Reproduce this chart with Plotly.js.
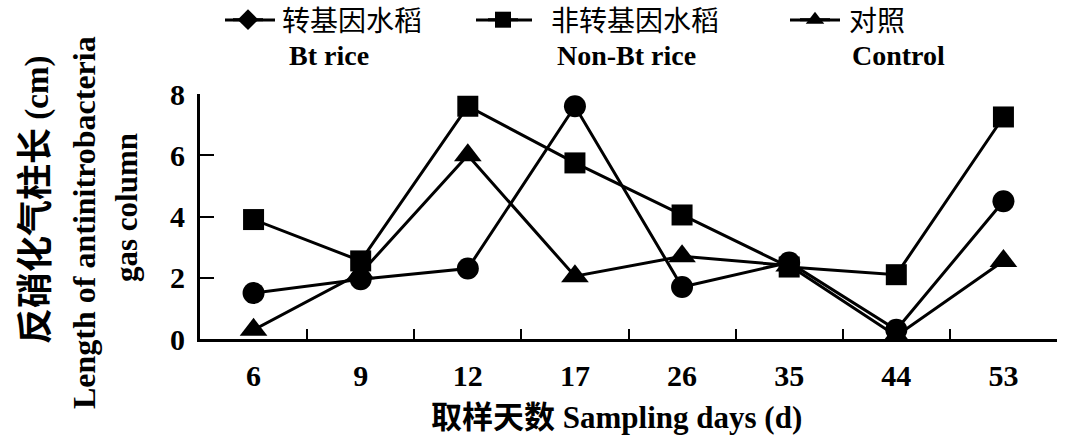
<!DOCTYPE html>
<html>
<head>
<meta charset="utf-8">
<script src="https://cdn.plot.ly/plotly-3.0.1.min.js"></script>
<style>html,body{margin:0;padding:0;background:#fff;}#chart{width:1065px;height:444px;}</style>
</head>
<body>
<div id="chart"></div>
<script>
const days = ['6', '9', '12', '17', '26', '35', '44', '53'];
const btRice = [1.5, 1.95, 2.3, 7.6, 1.7, 2.5, 0.3, 4.5];
const nonBtRice = [3.9, 2.55, 7.6, 5.75, 4.05, 2.35, 2.1, 7.25];
const control = [0.3, 2.15, 6.0, 2.05, 2.7, 2.4, 0.1, 2.55];
const seriesZh = ['转基因水稻', '非转基因水稻', '对照'];
const seriesEn = ['Bt rice', 'Non-Bt rice', 'Control'];
const yTicks = [0, 2, 4, 6, 8];

const FONT = 'Liberation Serif, Noto Sans CJK SC, serif';
const black = '#000';
const NB = '\u00a0';

// plot-area pixel geometry helpers (layout only)
const L = 200, R = 1057, T = 94, B = 339;
const px2x = p => (p - L) / (R - L);
const px2y = p => (B - p) / (B - T);

function dataTrace(y, symbol, size, name) {
  return {
    x: days, y: y, type: 'scatter', mode: 'lines+markers', name: name,
    line: {color: black, width: 3},
    marker: {symbol: symbol, size: size, color: black},
    cliponaxis: false, showlegend: false
  };
}
function legendTrace(symbol, size, name, legend) {
  return {
    x: [null], y: [null], type: 'scatter', mode: 'lines+markers', name: name,
    line: {color: black, width: 3},
    marker: {symbol: symbol, size: size, color: black},
    showlegend: true, legend: legend
  };
}

const traces = [
  dataTrace(btRice, 'circle', 22, seriesZh[0]),
  dataTrace(nonBtRice, 'square', 21, seriesZh[1]),
  dataTrace(control, 'triangle-up', 24, seriesZh[2]),
  legendTrace('diamond', 16, NB + NB + seriesZh[0], 'legend'),
  legendTrace('square', 16, NB + NB + NB + NB + seriesZh[1], 'legend2'),
  legendTrace('triangle-up', 16, NB + NB + seriesZh[2], 'legend3')
];

function leg(xpx) {
  return {
    x: xpx / 1065, xref: 'container', y: 1 - 20 / 444, yref: 'container',
    xanchor: 'left', yanchor: 'middle', bgcolor: 'rgba(0,0,0,0)',
    font: {family: FONT, size: 28, color: black}
  };
}

const enX = [287, 555, 850];
const legLines = [[225, 275], [476, 532], [790, 840]];

const rotAnn = (text, cx, cy, size) => ({
  text: text, textangle: -90, x: px2x(cx), xref: 'paper', xanchor: 'center',
  y: px2y(cy), yref: 'paper', yanchor: 'middle', showarrow: false,
  font: {family: FONT, size: size, color: black, weight: 'bold'}
});

const layout = {
  width: 1065, height: 444,
  margin: {l: L, r: 1065 - R, t: T, b: 444 - B, autoexpand: false},
  paper_bgcolor: '#fff', plot_bgcolor: '#fff',
  font: {family: FONT, color: black, size: 24},
  xaxis: {
    type: 'category', range: [-0.5, 7.5], tickson: 'boundaries',
    ticks: 'inside', ticklen: 10, tickwidth: 2, tickcolor: black,
    showline: true, linecolor: black, linewidth: 3, showgrid: false, zeroline: false,
    tickfont: {family: FONT, size: 30, color: black, weight: 'bold'},
    ticklabelstandoff: 8, tickangle: 0
  },
  yaxis: {
    range: [0, 8], tickvals: yTicks, ticktext: yTicks.map(String),
    ticks: 'inside', ticklen: 14, tickwidth: 2, tickcolor: black,
    showline: true, linecolor: black, linewidth: 3, showgrid: false, zeroline: false,
    tickfont: {family: FONT, size: 30, color: black, weight: 'bold'},
    ticklabelstandoff: 6
  },
  legend: leg(228), legend2: leg(483), legend3: leg(795),
  shapes: legLines.map(([a, b]) => ({
    type: 'line', xref: 'paper', yref: 'paper', x0: px2x(a), x1: px2x(b),
    y0: px2y(20), y1: px2y(20), line: {color: black, width: 3}
  })),
  annotations: [
    ...seriesEn.map((t, i) => ({
      text: t, x: px2x(enX[i]), xref: 'paper', xanchor: 'left',
      y: px2y(55), yref: 'paper', yanchor: 'middle', showarrow: false,
      font: {family: FONT, size: 28, color: black, weight: 'bold'}
    })),
    {text: '取样天数 Sampling days (d)', x: px2x(616), xref: 'paper', xanchor: 'center',
     y: px2y(418), yref: 'paper', yanchor: 'middle', showarrow: false,
     font: {family: FONT, size: 31, color: black, weight: 'bold'}},
    rotAnn('<span style="font-size:36px">反硝化气柱长</span> (cm)', 36, 200, 33),
    rotAnn('Length of antinitrobacteria', 84, 223, 32),
    rotAnn('gas column', 126, 208, 31)
  ]
};

Plotly.newPlot('chart', traces, layout, {displayModeBar: false, staticPlot: true});
</script>
</body>
</html>
